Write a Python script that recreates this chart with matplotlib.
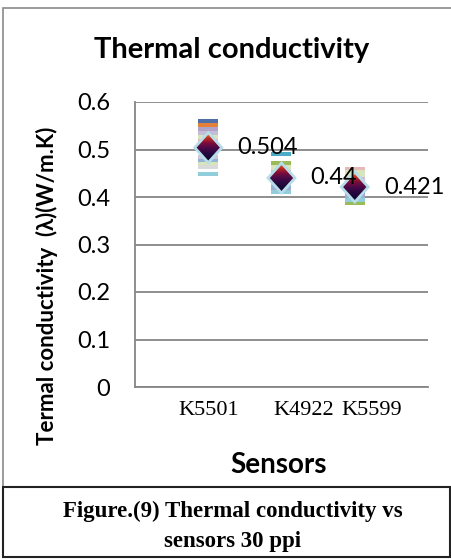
import numpy as np
import matplotlib
matplotlib.use("Agg")
import matplotlib.pyplot as plt
from matplotlib.patches import Polygon, Rectangle
from matplotlib.colors import LinearSegmentedColormap

# data
sensors = ["K5501", "K4922", "K5599"]
sensor_x = [1, 2, 3]
averages = [0.504, 0.44, 0.421]
avg_labels = ["0.504", "0.44", "0.421"]

# individual readings, one series per colour (K5501, K4922, K5599)
readings = [
    [0.560, 0.437, 0.415],
    [0.552, 0.446, 0.426],
    [0.543, 0.416, 0.404],
    [0.535, 0.456, 0.441],
    [0.526, 0.466, 0.447],
    [0.518, 0.426, 0.458],
    [0.509, 0.451, 0.436],
    [0.501, 0.490, 0.410],
    [0.497, 0.472, 0.388],
    [0.484, 0.431, 0.431],
    [0.476, 0.421, 0.398],
    [0.469, 0.461, 0.452],
    [0.463, 0.441, 0.421],
    [0.448, 0.411, 0.393],
]
reading_colors = ["#4F6FA8", "#E3803A", "#B3A2C7", "#C4BDD7", "#D7E4BD", "#E6B9B8",
                  "#CCC1DA", "#4BACC6", "#9BBB59", "#CFC5DD", "#95B3D7", "#D8E4BC",
                  "#D9D9D9", "#92CDDC"]

yticks = [0, 0.1, 0.2, 0.3, 0.4, 0.5, 0.6]
ytick_labels = ["0", "0.1", "0.2", "0.3", "0.4", "0.5", "0.6"]
xlabel_pos = [1.0, 2.3, 3.23]

W, H = 452, 560
fig = plt.figure(figsize=(W / 100, H / 100), dpi=100)
ax = fig.add_axes([135 / W, 1 - 387 / H, (428 - 135) / W, (387 - 102) / H])

grid_c = "#868686"
for s in ["top", "right"]:
    ax.spines[s].set_visible(False)
for s in ["left", "bottom"]:
    ax.spines[s].set_color(grid_c)
    ax.spines[s].set_linewidth(1.3)
ax.set_axisbelow(True)
ax.yaxis.grid(True, color=grid_c, linewidth=1.3)

# dash markers for the single readings
dash = [(-1, -0.17), (1, -0.17), (1, 0.17), (-1, 0.17)]
for vals, c in zip(readings, reading_colors):
    ax.plot(sensor_x, vals, linestyle="none", marker=dash, ms=15,
            color=c, markeredgewidth=0, zorder=2)

ax.set_xlim(0, 4)
ax.set_ylim(0, 0.6)

# average diamonds with a vertical gradient (dark navy -> purple -> red tip)
cmap = LinearSegmentedColormap.from_list(
    "dia", ["#08082c", "#140834", "#2a0840", "#4a0a48", "#7a0c3c", "#c02a20", "#e8782a"])
grad = np.linspace(0, 1, 64).reshape(-1, 1)
dx = 13.5 / (293 / 4)
dy = 15 / (285 / 0.6)
for x, y in zip(sensor_x, averages):
    poly = Polygon([(x - dx, y), (x, y + dy), (x + dx, y), (x, y - dy)],
                   closed=True, facecolor="none", edgecolor="#B7DEE8",
                   linewidth=2, zorder=5)
    ax.add_patch(poly)
    im = ax.imshow(grad, cmap=cmap, extent=[x - dx, x + dx, y + dy, y - dy],
                   aspect="auto", zorder=4, interpolation="bilinear")
    im.set_clip_path(poly)

ax.set_xlim(0, 4)
ax.set_ylim(0, 0.6)

lato = ["Lato", "DejaVu Sans"]
for x, y, t in zip(sensor_x, averages, avg_labels):
    ax.annotate(t, (x, y), xytext=(21, 0), textcoords="offset points",
                ha="left", va="center", fontsize=17, family=lato, zorder=6)

ax.set_yticks(yticks)
ax.set_yticklabels(ytick_labels, family=lato, fontsize=17)
ax.set_xticks(xlabel_pos)
ax.set_xticklabels(sensors, family="Liberation Serif", fontsize=16)
ax.tick_params(axis="y", length=0, pad=18)
ax.tick_params(axis="x", length=0, pad=10)

# titles
fig.text(232 / W, 1 - 58 / H, "Thermal conductivity", ha="center", va="baseline",
         fontsize=21, fontweight="bold", family=lato)
fig.text(279 / W, 1 - 473 / H, "Sensors", ha="center", va="baseline",
         fontsize=20, fontweight="bold", family=lato)
fig.text(47 / W, 1 - 286 / H, "Termal conductivity  (λ)(W/m.K)", rotation=90,
         ha="center", va="center", fontsize=16, fontweight="bold", family=lato)

# borders
fig.patches.append(Rectangle((3 / W, 1 - 487 / H), 1.0, (487 - 8) / H,
                             transform=fig.transFigure, fill=False,
                             edgecolor="#8a8a8a", linewidth=1.2))
fig.patches.append(Rectangle((3 / W, 1 - 557 / H), (450 - 3) / W, (557 - 487) / H,
                             transform=fig.transFigure, fill=False,
                             edgecolor="#222222", linewidth=1.5))

fig.text(233 / W, 1 - 517 / H, "Figure.(9) Thermal conductivity vs", ha="center",
         va="baseline", fontsize=16.5, fontweight="bold", family="Liberation Serif")
fig.text(233 / W, 1 - 547 / H, "sensors 30 ppi", ha="center",
         va="baseline", fontsize=16.5, fontweight="bold", family="Liberation Serif")

fig.savefig("out.png", dpi=100)
